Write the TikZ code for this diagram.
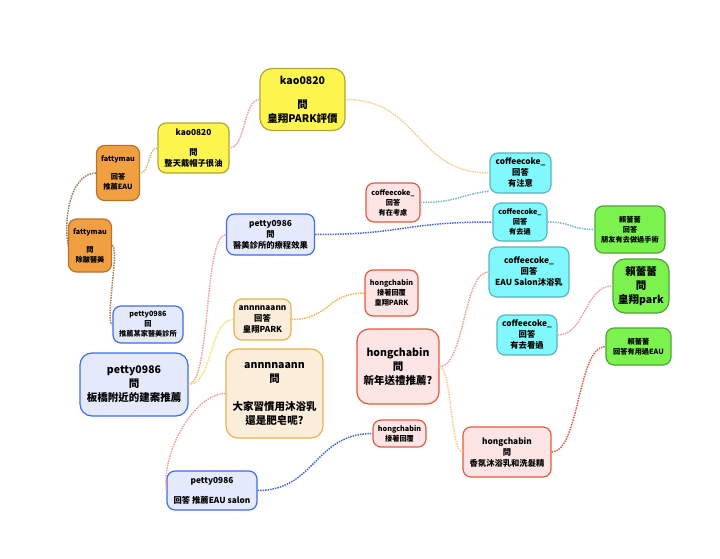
\documentclass[tikz,border=0pt]{standalone}
\usepackage{fontspec}
\setmainfont{Noto Sans CJK TC}
\usepackage{xcolor}
\usepackage{tikz}
\usetikzlibrary{calc}

\definecolor{yellowfill}{HTML}{FFF54F}
\definecolor{yellowline}{HTML}{B3A535}
\definecolor{orangefill}{HTML}{F0A040}
\definecolor{orangeline}{HTML}{B8732A}
\definecolor{bluefill}{HTML}{E4E9FC}
\definecolor{blueline}{HTML}{3F6CF2}
\definecolor{pinkfill}{HTML}{FCE5E4}
\definecolor{pinkline}{HTML}{E8583F}
\definecolor{peachfill}{HTML}{FCEEDA}
\definecolor{peachline}{HTML}{E9B24E}
\definecolor{cyanfill}{HTML}{80F8FC}
\definecolor{cyanline}{HTML}{5AB5BD}
\definecolor{greenfill}{HTML}{7CF24E}
\definecolor{greenline}{HTML}{4FA537}
\definecolor{linkpink}{HTML}{F2A0A0}
\definecolor{linkpeach}{HTML}{F8CC90}
\definecolor{linkolive}{HTML}{C8C070}
\definecolor{linkbrown}{HTML}{A08060}
\definecolor{linkyellow}{HTML}{F8E070}
\definecolor{linkblue}{HTML}{4466EE}
\definecolor{linkteal}{HTML}{7ABAC0}
\definecolor{linkorange}{HTML}{F2B850}
\definecolor{linkred}{HTML}{E8604C}

\begin{document}
\begin{tikzpicture}[x=1pt,y=-1pt,
    box/.style={draw,rounded corners=8pt,line width=1.2pt,align=center,inner sep=0pt},
    sizeS/.style={font=\fontsize{7.2}{10}\selectfont\bfseries},
    sizeM/.style={font=\fontsize{8.3}{11}\selectfont\bfseries},
    sizeL/.style={font=\fontsize{10.5}{14}\selectfont\bfseries,rounded corners=12pt},
    yellowbox/.style={box,fill=yellowfill,draw=yellowline},
    orangebox/.style={box,fill=orangefill,draw=orangeline},
    bluebox/.style={box,fill=bluefill,draw=blueline},
    pinkbox/.style={box,fill=pinkfill,draw=pinkline},
    peachbox/.style={box,fill=peachfill,draw=peachline},
    cyanbox/.style={box,fill=cyanfill,draw=cyanline},
    greenbox/.style={box,fill=greenfill,draw=greenline},
    link/.style={densely dotted,line width=1.5pt}]
        \useasboundingbox (0,0) rectangle (720,559);

        %%% KAO0820 %%%
        \node[yellowbox,sizeL,minimum width=85,minimum height=62] (kaoBig) at (302.5,99.5) {kao0820\\[10pt]問\\皇翔PARK評價};
        \node[yellowbox,sizeM,minimum width=71,minimum height=50] (kaoSmall) at (193.5,148) {kao0820\\[9pt]問\\整天戴帽子很油};

        %%% FATTYMAU %%%
        \node[orangebox,sizeS,minimum width=43,minimum height=55] (fattyA) at (118,173) {fattymau\\[8pt]回答\\推薦EAU};
        \node[orangebox,sizeS,minimum width=43,minimum height=53] (fattyQ) at (90,245.5) {fattymau\\[8pt]問\\除皺醫美};

        %%% PETTY0986 %%%
        \node[bluebox,sizeM,minimum width=88,minimum height=41] (pettyMed) at (270.5,234.5) {petty0986\\問\\醫美診所的療程效果};
        \node[bluebox,sizeS,minimum width=70,minimum height=37] (pettySmall) at (148,324.5) {petty0986\\回\\推薦某家醫美診所};
        \node[bluebox,sizeL,minimum width=108,minimum height=63] (pettyBig) at (134,384.5) {petty0986\\問\\板橋附近的建案推薦};
        \node[bluebox,sizeM,minimum width=90,minimum height=39] (pettyBot) at (212,490.5) {petty0986\\[9pt]回答 推薦EAU salon};

        %%% ANNNNAANN %%%
        \node[peachbox,sizeM,minimum width=57,minimum height=41] (annA) at (262.5,319.5) {annnnaann\\回答\\皇翔PARK};
        \node[peachbox,sizeL,minimum width=97,minimum height=89] (annBig) at (274.5,393.5) {annnnaann\\問\\[14pt]大家習慣用沐浴乳\\還是肥皂呢?};

        %%% HONGCHABIN %%%
        \node[pinkbox,sizeS,minimum width=53,minimum height=46] (hongTop) at (391.5,293) {hongchabin\\接著回覆\\皇翔PARK};
        \node[pinkbox,sizeL,minimum width=82,minimum height=75] (hongBig) at (398,366.5) {hongchabin\\問\\新年送禮推薦?};
        \node[pinkbox,sizeS,minimum width=53,minimum height=27] (hongSmall) at (399.5,433.5) {hongchabin\\接著回覆};
        \node[pinkbox,sizeM,minimum width=88,minimum height=50] (hongBot) at (507,452) {hongchabin\\問\\香氛沐浴乳和洗髮精};

        %%% COFFEECOKE_ %%%
        \node[pinkbox,sizeS,minimum width=54,minimum height=39] (coffeeConsider) at (393,202.5) {coffeecoke\_\\回答\\有在考慮};
        \node[cyanbox,sizeM,minimum width=61,minimum height=40] (coffeeNotice) at (520.5,173) {coffeecoke\_\\回答\\有注意};
        \node[cyanbox,sizeS,minimum width=54,minimum height=38] (coffeeBeen) at (520,222) {coffeecoke\_\\回答\\有去過};
        \node[cyanbox,sizeM,minimum width=80,minimum height=50] (coffeeEAU) at (529,272) {coffeecoke\_\\回答\\EAU Salon沐浴乳};
        \node[cyanbox,sizeM,minimum width=60,minimum height=40] (coffeeSeen) at (527,335) {coffeecoke\_\\回答\\有去看過};

        %%% LAI %%%
        \node[greenbox,sizeS,minimum width=70,minimum height=47] (laiFriend) at (630,229.5) {賴蕾蕾\\回答\\朋友有去做過手術};
        \node[greenbox,sizeL,minimum width=56,minimum height=54] (laiPark) at (641,286) {賴蕾蕾\\問\\皇翔park};
        \node[greenbox,sizeS,minimum width=65,minimum height=37] (laiEAU) at (638.5,346.5) {賴蕾蕾\\回答有用過EAU};

        %%% LINKS %%%
        \draw[link,linkpink] (kaoBig.west) .. controls +(-16,0) and +(16,0) .. (kaoSmall.east);
        \draw[link,linkpeach] (kaoBig.east) .. controls +(75,0) and +(-75,0) .. (coffeeNotice.west);
        \draw[link,linkolive] (kaoSmall.west) .. controls +(-10,0) and +(10,0) .. (fattyA.east);
        \draw[link,linkbrown] (fattyA.west) .. controls +(-22,0) and +(-5,-35) .. (fattyQ.west);
        \draw[link,linkbrown] (fattyQ.east) .. controls +(8,0) and +(-8,0) .. (pettySmall.west);
        \draw[link,linkpink] (pettyBig.east) .. controls +(22,0) and +(-22,0) .. (pettyMed.west);
        \draw[link,linkyellow] (pettyBig.east) .. controls +(24,0) and +(-24,0) .. (annA.west);
        \draw[link,linkblue] (pettyMed.east) .. controls +(90,0) and +(-90,0) .. (coffeeBeen.west);
        \draw[link,linkteal] (coffeeConsider.east) .. controls +(35,0) and +(-30,4) .. ([yshift=-18pt]coffeeNotice.west);
        \draw[link,linkteal] (coffeeBeen.east) .. controls +(25,0) and +(-25,0) .. (laiFriend.west);
        \draw[link,linkorange] (annA.east) .. controls +(38,0) and +(-38,0) .. (hongTop.west);
        \draw[link,linkpink] (annBig.west) .. controls +(-30,0) and +(-5,-40) .. (pettyBot.west);
        \draw[link,linkblue] (pettyBot.east) .. controls +(58,0) and +(-58,0) .. (hongSmall.west);
        \draw[link,linkpink] (hongBig.east) .. controls +(25,0) and +(-25,0) .. (coffeeEAU.west);
        \draw[link,linkpeach] (hongBig.east) .. controls +(12,0) and +(-12,0) .. (hongBot.west);
        \draw[link,linkpink] (coffeeSeen.east) .. controls +(28,0) and +(-28,0) .. (laiPark.west);
        \draw[link,linkred] (hongBot.east) .. controls +(28,0) and +(-28,0) .. (laiEAU.west);
    \end{tikzpicture}
\end{document}
